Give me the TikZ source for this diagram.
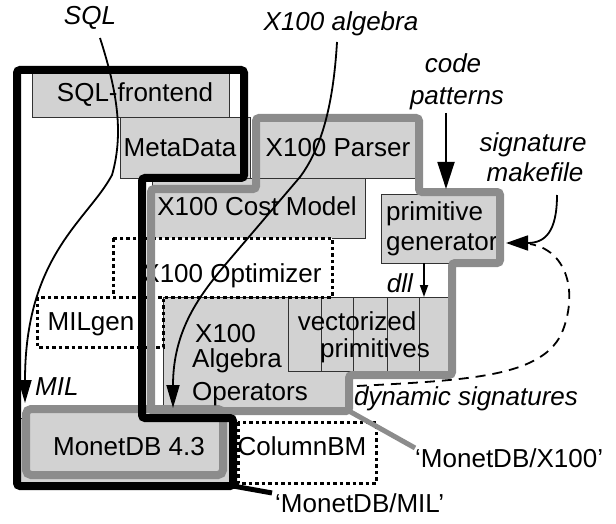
\documentclass[tikz,border=0pt]{standalone}
\usepackage{fontspec}
\setmainfont{Liberation Sans}
\usetikzlibrary{arrows.meta,calc}
\definecolor{boxfill}{RGB}{210,210,210}
\definecolor{outgray}{RGB}{140,140,140}
\definecolor{edgec}{RGB}{50,50,50}
\begin{document}
\begin{tikzpicture}[x=1pt,y=-1pt,
  font=\fontsize{26}{30}\selectfont,
  box/.style={fill=boxfill, draw=edgec, line width=0.9pt},
  dotbox/.style={fill=white, draw=black, line width=3pt, dash pattern=on 3.5pt off 3pt},
  lbl/.style={inner sep=0pt, anchor=base},
  lblw/.style={inner sep=0pt, anchor=base west},
  it/.style={font=\fontsize{26}{30}\selectfont\itshape},
  blackout/.style={draw=black, line width=8pt, rounded corners=3pt},
  grayout/.style={draw=outgray, line width=8pt, rounded corners=3pt},
  flow/.style={line width=1.8pt},
  bigtip/.style={-{Triangle[length=23pt,width=13pt]}},
  fattip/.style={-{Triangle[length=27pt,width=17pt]}},
  sidetip/.style={-{Triangle[length=22pt,width=15pt]}},
  smalltip/.style={-{Triangle[length=12pt,width=8pt]}}
]
\useasboundingbox (0,0) rectangle (616,524);
% ---- boxes
\path[box] (32,68) rectangle (229,117);
\path[box] (120,117) rectangle (250,178);
\path[box] (256,118) rectangle (419,178);
\path[box] (152,178) rectangle (365,238);
\path[box] (381,194) rectangle (500,263);
\path[box] (163,297) -- (449,297) -- (449,375) -- (349,375) -- (349,411) -- (163,411) -- cycle;
\draw[draw=edgec, line width=0.9pt] (288,297) -- (288,371) -- (449,371);
\foreach \xx in {321,353,387,419} \draw[draw=edgec, line width=0.9pt] (\xx,297) -- (\xx,371);
\path[box] (17,418) rectangle (233,486);
\path[dotbox] (113,238) rectangle (332,297);
\path[dotbox] (37,297) rectangle (163,347);
\path[dotbox] (238,422) rectangle (376,483);
\draw[grayout, fill=boxfill, rounded corners=5pt] (26,409) rectangle (223,475);
% ---- box texts
\node[lbl] (tsqlfe) at (135,102) {SQL-frontend};
\node[lbl] (tmeta) at (180,157) {MetaData};
\node[lbl] (tparser) at (338,157) {X100 Parser};
\node[lbl] (tcost) at (257,215) {X100 Cost Model};
\node[lbl] (topt) at (232,282) {X100 Optimizer};
\node[lblw] (tprim) at (386,220) {primitive};
\node[lblw] (tgen) at (386,250) {generator};
\node[lbl] (tmilgen) at (91,330) {MILgen};
\node[lblw] (talg1) at (195,342) {X100};
\node[lblw] (talg2) at (192,367) {Algebra};
\node[lblw] (talg3) at (192,400) {Operators};
\node[lbl] (tvec1) at (357,330) {vectorized};
\node[lbl] (tvec2) at (375,357) {primitives};
\node[lbl] (tmonet) at (129,455) {MonetDB 4.3};
\node[lbl] (tcol) at (302,455) {ColumnBM};
% ---- outlines
\draw[grayout] (151,411) -- (151,189) -- (256,189) -- (256,118) -- (419,118) -- (419,192) -- (500,192) -- (500,263) -- (452,263) -- (452,375) -- (349,375) -- (349,411) -- cycle;
\draw[blackout] (17,70) -- (244,70) -- (244,178) -- (142,178) -- (142,418) -- (233,418) -- (233,486) -- (17,486) -- cycle;
% ---- outline labels
\node[lblw] (lx100) at (415,467) {‘MonetDB/X100’};
\node[lblw] (lmil) at (275,512) {‘MonetDB/MIL’};
\coordinate (gcorner) at (349,411);
\coordinate (bcorner) at (233,486);
\draw[draw=outgray, line width=5pt] (gcorner) -- (lx100.north west);
\draw[draw=black, line width=5pt] (bcorner) -- ($(lmil.north west)+(-3,0)$);
% ---- italic labels
\node[lbl, it] (lsql) at (90,25) {SQL};
\node[lbl, it] (lalg) at (341,31) {X100 algebra};
\node[lbl, it] (lcode) at (453,73) {code};
\node[lbl, it] (lpat) at (457,105) {patterns};
\node[lbl, it] (lsig) at (533,152) {signature};
\node[lbl, it] (lmake) at (535,182) {makefile};
\node[lbl, it] (ldll) at (400,292) {dll};
\node[lblw, it] (lmilt) at (35,395) {MIL};
\node[lbl, it] (ldyn) at (466,405) {dynamic signatures};
% ---- flows
\coordinate (miltip) at (25,403);
\coordinate (opstip) at (173,408);
\coordinate (gentop) at (446,189);
\coordinate (genright) at (506,243);
\coordinate (genbot) at (424,263);
\coordinate (algtop) at (424,297);
\draw[flow, bigtip] (100,38) .. controls (115,85) and (125,130) .. (112,175)
   .. controls (88,220) and (25,255) .. (miltip);
\draw[flow, bigtip] (337,42) .. controls (333,110) and (320,150) .. (300,177)
   -- (225,265) .. controls (200,295) and (173,330) .. (opstip);
\draw[flow, fattip] (446,113) -- (gentop);
\draw[flow, sidetip] (557,195) .. controls (557,232) and (545,243) .. (genright);
\draw[flow, smalltip] (genbot) -- (algtop);
\draw[flow, dash pattern=on 10pt off 7pt] (357,386) .. controls (470,380) and (545,377) .. (563,330)
   .. controls (578,290) and (566,250) .. (530,244);
\end{tikzpicture}
\end{document}
